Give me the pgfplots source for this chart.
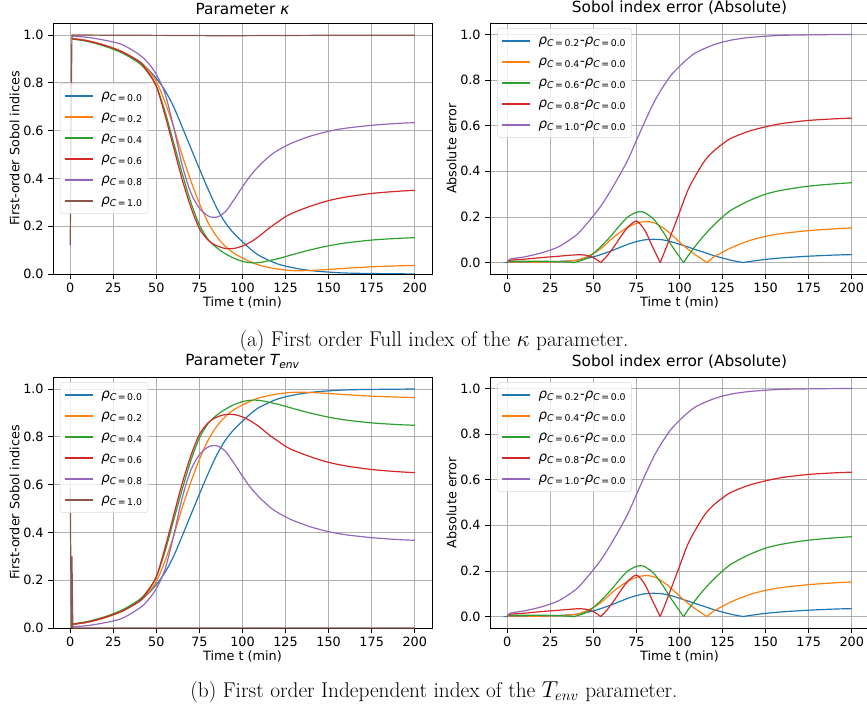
\documentclass[border=0pt]{standalone}
\usepackage{pgfplots}
\pgfplotsset{compat=1.18}
\usepackage{fontspec}
\newfontfamily\dejavu{DejaVu Sans}
\definecolor{c0}{HTML}{1F77B4}
\definecolor{c1}{HTML}{FF7F0E}
\definecolor{c2}{HTML}{2CA02C}
\definecolor{c3}{HTML}{D62728}
\definecolor{c4}{HTML}{9467BD}
\definecolor{c5}{HTML}{8C564B}
\definecolor{gridgray}{HTML}{B0B0B0}
\newcommand{\rc}[1]{{\itshape ρ}\textsubscript{{\itshape C}\,=\,#1}}
\pgfplotsset{
  sobol/.style={
    scale only axis, width=284.25pt, height=188.25pt,
    xmin=-10, xmax=210, xtick={0,25,50,75,100,125,150,175,200},
    ytick={0,0.2,0.4,0.6,0.8,1.0},
    grid=major, major grid style={line width=0.6pt, color=gridgray},
    tick align=outside, major tick length=3.5pt,
    tick style={black, line width=0.6pt},
    axis line style={line width=0.7pt},
    xtick pos=left, ytick pos=left,
    tick label style={font=\dejavu\fontsize{9.6}{11}\selectfont},
    label style={font=\dejavu\fontsize{9.6}{11}\selectfont},
    title style={font=\dejavu\fontsize{11.5}{13}\selectfont, yshift=-3pt},
    yticklabel style={/pgf/number format/.cd, fixed, fixed zerofill, precision=1},
    /pgf/number format/assume math mode=true,
    every axis plot/.append style={line width=0.9pt},
    legend cell align=left,
    legend image code/.code={\draw[#1, sharp plot] (0pt,0pt) -- (21pt,0pt); \path (26pt,0pt);},
    legend style={draw=black!15, rounded corners=2pt, fill=white, fill opacity=0.8, text opacity=1,
      font=\dejavu\fontsize{10}{11}\selectfont,
      nodes={inner sep=1pt, text height=8pt, text depth=3pt},
      row sep=2.75pt, inner sep=3pt},
    xlabel={Time t (min)},
    xlabel style={yshift=4pt},
  }
}
\begin{document}
\begin{tikzpicture}
\path[use as bounding box] (0,0) rectangle (650.25pt,-531.75pt);
% ---------------- Top left ----------------
\begin{axis}[sobol, at={(39.75pt,-17.25pt)}, anchor=north west,
  ymin=0, ymax=1.05, title={Parameter {\itshape κ}}, ylabel={First-order Sobol indices},
  ylabel style={yshift=-4pt},
  legend style={at={(0.018,0.761)}, anchor=north west}]
\addplot[c0, smooth] coordinates {(1,0.985)(10,0.976)(20,0.957)(30,0.93)(40,0.89)(45,0.858)(50,0.818)(55,0.768)(60,0.7)(65,0.615)(70,0.527)(75,0.44)(80,0.355)(85,0.277)(90,0.215)(95,0.17)(100,0.135)(105,0.102)(110,0.076)(120,0.043)(130,0.025)(140,0.014)(150,0.008)(160,0.004)(175,0.002)(190,0.001)(200,0.0)};
\addlegendentry{\rc{0.0}}
\addplot[c1, smooth] coordinates {(1,0.985)(10,0.976)(20,0.957)(30,0.93)(40,0.887)(45,0.855)(50,0.805)(55,0.72)(60,0.615)(65,0.497)(70,0.39)(75,0.295)(80,0.215)(85,0.157)(90,0.116)(95,0.087)(100,0.067)(105,0.05)(110,0.036)(120,0.021)(130,0.014)(140,0.015)(150,0.019)(160,0.024)(175,0.03)(190,0.034)(200,0.036)};
\addlegendentry{\rc{0.2}}
\addplot[c2, smooth] coordinates {(1,0.983)(10,0.973)(20,0.953)(30,0.925)(40,0.882)(45,0.843)(50,0.785)(55,0.68)(60,0.55)(65,0.42)(70,0.3)(75,0.205)(80,0.145)(85,0.11)(90,0.085)(95,0.066)(100,0.053)(105,0.047)(110,0.048)(120,0.063)(130,0.083)(140,0.102)(150,0.118)(160,0.13)(175,0.142)(190,0.149)(200,0.152)};
\addlegendentry{\rc{0.4}}
\addplot[c3, smooth] coordinates {(1,0.985)(10,0.975)(20,0.956)(30,0.93)(40,0.888)(45,0.847)(50,0.785)(55,0.665)(60,0.53)(65,0.395)(70,0.28)(75,0.19)(80,0.142)(85,0.118)(90,0.107)(95,0.107)(100,0.117)(105,0.135)(110,0.16)(116,0.195)(120,0.215)(125,0.24)(130,0.258)(140,0.285)(150,0.307)(160,0.322)(175,0.337)(190,0.346)(200,0.35)};
\addlegendentry{\rc{0.6}}
\addplot[c4, smooth] coordinates {(1,0.995)(10,0.99)(20,0.978)(30,0.96)(40,0.918)(45,0.885)(50,0.835)(55,0.755)(60,0.615)(65,0.455)(70,0.34)(75,0.275)(80,0.243)(83,0.237)(86,0.24)(90,0.26)(95,0.31)(100,0.365)(105,0.415)(110,0.455)(116,0.495)(120,0.515)(125,0.535)(130,0.552)(140,0.578)(150,0.597)(160,0.61)(175,0.622)(190,0.63)(200,0.633)};
\addlegendentry{\rc{0.8}}
\addplot[c5, sharp plot] coordinates {(0,0.12)(0.7,0.8)(1,1.0)(20,0.999)(60,0.998)(80,0.997)(100,0.997)(130,0.998)(160,0.999)(200,0.999)};
\addlegendentry{\rc{1.0}}
\end{axis}
% ---------------- Top right ----------------
\begin{axis}[sobol, at={(367.5pt,-17.25pt)}, anchor=north west,
  ymin=-0.05, ymax=1.05, title={Sobol index error (Absolute)}, ylabel={Absolute error},
  ylabel style={yshift=-4pt},
  legend style={at={(0.019,0.98)}, anchor=north west}]
\addplot[c0, smooth] coordinates {(0,0)(1.5,0.001)(20,0.002)(30,0.005)(40,0.01)(50,0.025)(55,0.037)(60,0.05)(65,0.065)(70,0.08)(75,0.092)(80,0.1)(85,0.102)(90,0.1)(95,0.092)(100,0.08)(105,0.068)(110,0.055)(115,0.043)(120,0.03)(125,0.02)(130,0.01)(137,0.0)};
\addlegendentry{\rc{0.2}-\rc{0.0}}
\addplot[c0, smooth, forget plot] coordinates {(137,0.0)(140,0.004)(150,0.014)(160,0.021)(175,0.028)(190,0.033)(200,0.035)};
\addplot[c1, smooth] coordinates {(0,0)(1.5,0.002)(10,0.002)(20,0.002)(30,0.004)(40,0.01)(45,0.022)(50,0.04)(55,0.065)(60,0.1)(65,0.13)(70,0.155)(75,0.172)(80,0.18)(85,0.175)(90,0.155)(95,0.125)(100,0.09)(105,0.058)(110,0.03)(116,0.0)};
\addlegendentry{\rc{0.4}-\rc{0.0}}
\addplot[c1, smooth, forget plot] coordinates {(116,0.0)(120,0.025)(125,0.045)(130,0.065)(140,0.095)(150,0.115)(160,0.128)(175,0.14)(190,0.148)(200,0.152)};
\addplot[c2, smooth] coordinates {(0,0)(1.5,0.005)(10,0.006)(20,0.006)(30,0.004)(38.8,0.0)};
\addlegendentry{\rc{0.6}-\rc{0.0}}
\addplot[c2, smooth, forget plot] coordinates {(38.8,0.0)(45,0.015)(50,0.04)(55,0.075)(60,0.115)(65,0.16)(70,0.2)(75,0.22)(77.5,0.223)(80,0.218)(85,0.19)(90,0.14)(95,0.08)(100,0.025)(102.4,0.0)};
\addplot[c2, smooth, forget plot] coordinates {(102.4,0.0)(105,0.03)(110,0.08)(115,0.125)(120,0.165)(125,0.2)(130,0.23)(140,0.27)(150,0.3)(160,0.318)(175,0.335)(190,0.345)(200,0.35)};
\addplot[c3, smooth] coordinates {(0,0)(1.5,0.01)(10,0.015)(20,0.022)(30,0.028)(40,0.034)(45,0.033)(50,0.022)(54.3,0.0)};
\addlegendentry{\rc{0.8}-\rc{0.0}}
\addplot[c3, smooth, forget plot] coordinates {(54.3,0.0)(58,0.03)(62,0.07)(66,0.115)(70,0.155)(74,0.18)(76,0.178)(80,0.14)(84,0.075)(88.8,0.0)};
\addplot[c3, smooth, forget plot] coordinates {(88.8,0.0)(92,0.06)(96,0.14)(100,0.22)(105,0.32)(110,0.39)(115,0.45)(120,0.49)(125,0.52)(130,0.545)(140,0.575)(150,0.595)(160,0.61)(175,0.623)(190,0.63)(200,0.633)};
\addplot[c4, smooth] coordinates {(0,0)(1.5,0.015)(10,0.025)(20,0.043)(30,0.07)(40,0.12)(45,0.16)(50,0.205)(55,0.255)(60,0.315)(65,0.38)(70,0.45)(75,0.535)(80,0.62)(85,0.7)(90,0.765)(95,0.82)(100,0.86)(105,0.895)(110,0.922)(120,0.955)(130,0.975)(140,0.986)(150,0.992)(160,0.996)(175,0.998)(200,1.0)};
\addlegendentry{\rc{1.0}-\rc{0.0}}
\end{axis}
% ---------------- Bottom left ----------------
\begin{axis}[sobol, at={(39.75pt,-282.75pt)}, anchor=north west,
  ymin=0, ymax=1.05, title={Parameter {\itshape T}\textsubscript{\itshape env}}, ylabel={First-order Sobol indices},
  ylabel style={yshift=-4pt},
  legend style={at={(0.018,0.98)}, anchor=north west}]
\addplot[c0, smooth] coordinates {(1,0.015)(10,0.024)(20,0.043)(30,0.07)(40,0.11)(45,0.142)(50,0.182)(55,0.232)(60,0.3)(65,0.385)(70,0.473)(75,0.56)(80,0.645)(85,0.723)(90,0.785)(95,0.83)(100,0.865)(105,0.898)(110,0.924)(120,0.957)(130,0.975)(140,0.986)(150,0.992)(160,0.996)(175,0.998)(190,0.999)(200,1.0)};
\addlegendentry{\rc{0.0}}
\addplot[c1, smooth] coordinates {(1,0.015)(10,0.024)(20,0.043)(30,0.07)(40,0.113)(45,0.145)(50,0.195)(55,0.28)(60,0.385)(65,0.503)(70,0.61)(75,0.705)(80,0.785)(85,0.843)(90,0.884)(95,0.913)(100,0.933)(105,0.95)(110,0.964)(120,0.979)(130,0.986)(140,0.985)(150,0.981)(160,0.976)(175,0.97)(190,0.966)(200,0.964)};
\addlegendentry{\rc{0.2}}
\addplot[c2, smooth] coordinates {(1,0.017)(10,0.027)(20,0.047)(30,0.075)(40,0.118)(45,0.157)(50,0.215)(55,0.32)(60,0.45)(65,0.58)(70,0.7)(75,0.795)(80,0.855)(85,0.89)(90,0.915)(95,0.934)(100,0.947)(105,0.953)(110,0.952)(120,0.937)(130,0.917)(140,0.898)(150,0.882)(160,0.87)(175,0.858)(190,0.851)(200,0.848)};
\addlegendentry{\rc{0.4}}
\addplot[c3, smooth] coordinates {(1,0.015)(10,0.025)(20,0.044)(30,0.07)(40,0.112)(45,0.153)(50,0.215)(55,0.335)(60,0.47)(65,0.605)(70,0.72)(75,0.81)(80,0.858)(85,0.882)(90,0.893)(95,0.893)(100,0.883)(105,0.865)(110,0.84)(116,0.805)(120,0.785)(125,0.76)(130,0.742)(140,0.715)(150,0.693)(160,0.678)(175,0.663)(190,0.654)(200,0.65)};
\addlegendentry{\rc{0.6}}
\addplot[c4, smooth] coordinates {(1,0.005)(10,0.01)(20,0.022)(30,0.04)(40,0.082)(45,0.115)(50,0.165)(55,0.245)(60,0.385)(65,0.545)(70,0.66)(75,0.725)(80,0.757)(83,0.763)(86,0.76)(90,0.74)(95,0.69)(100,0.635)(105,0.585)(110,0.545)(116,0.505)(120,0.485)(125,0.465)(130,0.448)(140,0.422)(150,0.403)(160,0.39)(175,0.378)(190,0.37)(200,0.367)};
\addlegendentry{\rc{0.8}}
\addplot[c5, sharp plot] coordinates {(0,0.585)(0.6,0.0)(1,0.3)(1.5,0.0)(50,0.0)(100,0.0)(200,0.0)};
\addlegendentry{\rc{1.0}}
\end{axis}
% ---------------- Bottom right ----------------
\begin{axis}[sobol, at={(367.5pt,-282.75pt)}, anchor=north west,
  ymin=-0.05, ymax=1.05, title={Sobol index error (Absolute)}, ylabel={Absolute error},
  ylabel style={yshift=-4pt},
  legend style={at={(0.019,0.98)}, anchor=north west}]
\addplot[c0, smooth] coordinates {(0,0)(1.5,0.001)(20,0.002)(30,0.005)(40,0.01)(50,0.025)(55,0.037)(60,0.05)(65,0.065)(70,0.08)(75,0.092)(80,0.1)(85,0.102)(90,0.1)(95,0.092)(100,0.08)(105,0.068)(110,0.055)(115,0.043)(120,0.03)(125,0.02)(130,0.01)(137,0.0)};
\addlegendentry{\rc{0.2}-\rc{0.0}}
\addplot[c0, smooth, forget plot] coordinates {(137,0.0)(140,0.004)(150,0.014)(160,0.021)(175,0.028)(190,0.033)(200,0.035)};
\addplot[c1, smooth] coordinates {(0,0)(1.5,0.002)(10,0.002)(20,0.002)(30,0.004)(40,0.01)(45,0.022)(50,0.04)(55,0.065)(60,0.1)(65,0.13)(70,0.155)(75,0.172)(80,0.18)(85,0.175)(90,0.155)(95,0.125)(100,0.09)(105,0.058)(110,0.03)(116,0.0)};
\addlegendentry{\rc{0.4}-\rc{0.0}}
\addplot[c1, smooth, forget plot] coordinates {(116,0.0)(120,0.025)(125,0.045)(130,0.065)(140,0.095)(150,0.115)(160,0.128)(175,0.14)(190,0.148)(200,0.152)};
\addplot[c2, smooth] coordinates {(0,0)(1.5,0.005)(10,0.006)(20,0.006)(30,0.004)(38.8,0.0)};
\addlegendentry{\rc{0.6}-\rc{0.0}}
\addplot[c2, smooth, forget plot] coordinates {(38.8,0.0)(45,0.015)(50,0.04)(55,0.075)(60,0.115)(65,0.16)(70,0.2)(75,0.22)(77.5,0.223)(80,0.218)(85,0.19)(90,0.14)(95,0.08)(100,0.025)(102.4,0.0)};
\addplot[c2, smooth, forget plot] coordinates {(102.4,0.0)(105,0.03)(110,0.08)(115,0.125)(120,0.165)(125,0.2)(130,0.23)(140,0.27)(150,0.3)(160,0.318)(175,0.335)(190,0.345)(200,0.35)};
\addplot[c3, smooth] coordinates {(0,0)(1.5,0.01)(10,0.015)(20,0.022)(30,0.028)(40,0.034)(45,0.033)(50,0.022)(54.3,0.0)};
\addlegendentry{\rc{0.8}-\rc{0.0}}
\addplot[c3, smooth, forget plot] coordinates {(54.3,0.0)(58,0.03)(62,0.07)(66,0.115)(70,0.155)(74,0.18)(76,0.178)(80,0.14)(84,0.075)(88.8,0.0)};
\addplot[c3, smooth, forget plot] coordinates {(88.8,0.0)(92,0.06)(96,0.14)(100,0.22)(105,0.32)(110,0.39)(115,0.45)(120,0.49)(125,0.52)(130,0.545)(140,0.575)(150,0.595)(160,0.61)(175,0.623)(190,0.63)(200,0.633)};
\addplot[c4, smooth] coordinates {(0,0)(1.5,0.015)(10,0.025)(20,0.043)(30,0.07)(40,0.12)(45,0.16)(50,0.205)(55,0.255)(60,0.315)(65,0.38)(70,0.45)(75,0.535)(80,0.62)(85,0.7)(90,0.765)(95,0.82)(100,0.86)(105,0.895)(110,0.922)(120,0.955)(130,0.975)(140,0.986)(150,0.992)(160,0.996)(175,0.998)(200,1.0)};
\addlegendentry{\rc{1.0}-\rc{0.0}}
\end{axis}
% ---------------- Captions ----------------
\node[font=\fontsize{16}{18}\selectfont] at (325.5pt,-255.75pt) {(a) First order Full index of the $\kappa$ parameter.};
\node[font=\fontsize{16}{18}\selectfont] at (325.5pt,-519pt) {(b) First order Independent index of the $T_{env}$ parameter.};
\end{tikzpicture}
\end{document}
